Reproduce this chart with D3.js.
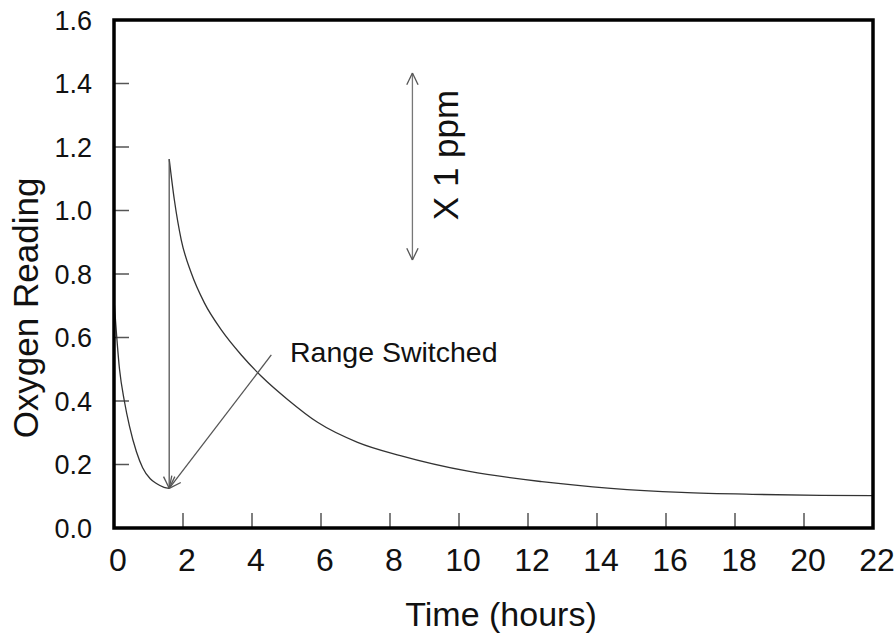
<!DOCTYPE html>
<html>
<head>
<meta charset="utf-8">
<script src="https://cdn.jsdelivr.net/npm/d3@7"></script>
<style>
  body { margin: 0; background: #fff; }
  text { font-family: "Liberation Sans", Arial, sans-serif; fill: #111; }
</style>
</head>
<body>
<svg id="chart" width="896" height="633"></svg>
<script>
// readings before the range switch (hours, ppm)
const beforeHours = [0, 0.16, 0.3, 0.45, 0.65, 0.83, 1.05, 1.23, 1.45, 1.6];
const beforeValues = [0.72, 0.5, 0.4, 0.32, 0.24, 0.19, 0.155, 0.14, 0.128, 0.125];

// readings after the range switch
const afterHours = [1.6, 1.75, 1.95, 2.24, 2.62, 3.11, 3.69, 4.27, 5.03, 5.9, 7.06, 8.3, 10.3, 12.4, 14.4, 16.45, 18.5, 20.5, 22];
const afterValues = [1.162, 1.033, 0.907, 0.803, 0.709, 0.624, 0.545, 0.478, 0.405, 0.333, 0.27, 0.228, 0.178, 0.146, 0.125, 0.112, 0.106, 0.103, 0.102];

const xTicks = d3.range(0, 23, 2);
const yTicks = [0, 0.2, 0.4, 0.6, 0.8, 1.0, 1.2, 1.4, 1.6];

// annotation arrows: [x1, y1, x2, y2] in data units, head at (x2, y2)
const switchArrows = [
  [1.6, 1.162, 1.6, 0.125],
  [4.56, 0.545, 1.6, 0.125],
];
const scaleArrow = [8.65, 0.844, 8.65, 1.433];

const width = 896;
const height = 633;
const margin = { top: 20, right: 23, bottom: 105, left: 114 };

const svg = d3.select("#chart");

const x = d3
  .scaleLinear()
  .domain([0, 22])
  .range([margin.left, width - margin.right]);

const y = d3
  .scaleLinear()
  .domain([0, 1.6])
  .range([height - margin.bottom, margin.top]);

// inner ticks
svg
  .selectAll(".xtick")
  .data(xTicks.slice(1, -1))
  .enter()
  .append("line")
  .attr("x1", (d) => x(d))
  .attr("x2", (d) => x(d))
  .attr("y1", y(0))
  .attr("y2", y(0) - 15)
  .attr("stroke", "#555")
  .attr("stroke-width", 1.5);

svg
  .selectAll(".ytick")
  .data(yTicks.slice(1, -1))
  .enter()
  .append("line")
  .attr("x1", x(0))
  .attr("x2", x(0) + 15)
  .attr("y1", (d) => y(d))
  .attr("y2", (d) => y(d))
  .attr("stroke", "#555")
  .attr("stroke-width", 1.5);

// curves
const line = d3
  .line()
  .x((d) => x(d[0]))
  .y((d) => y(d[1]))
  .curve(d3.curveMonotoneX);

[d3.zip(beforeHours, beforeValues), d3.zip(afterHours, afterValues)].forEach((pts) => {
  svg
    .append("path")
    .datum(pts)
    .attr("d", line)
    .attr("fill", "none")
    .attr("stroke", "#333")
    .attr("stroke-width", 1.3);
});

// arrows
function arrowHead(px, py, fromX, fromY) {
  const ang = Math.atan2(py - fromY, px - fromX);
  const len = 13;
  const spread = 0.45;
  [ang + Math.PI - spread, ang + Math.PI + spread].forEach((a) => {
    svg
      .append("line")
      .attr("x1", px)
      .attr("y1", py)
      .attr("x2", px + len * Math.cos(a))
      .attr("y2", py + len * Math.sin(a))
      .attr("stroke", "#555")
      .attr("stroke-width", 1.3);
  });
}

switchArrows.forEach((a) => {
  svg
    .append("line")
    .attr("x1", x(a[0]))
    .attr("y1", y(a[1]))
    .attr("x2", x(a[2]))
    .attr("y2", y(a[3]))
    .attr("stroke", "#555")
    .attr("stroke-width", 1.3);
  arrowHead(x(a[2]), y(a[3]), x(a[0]), y(a[1]));
});

svg
  .append("line")
  .attr("x1", x(scaleArrow[0]))
  .attr("y1", y(scaleArrow[1]))
  .attr("x2", x(scaleArrow[2]))
  .attr("y2", y(scaleArrow[3]))
  .attr("stroke", "#777")
  .attr("stroke-width", 1.3);
arrowHead(x(scaleArrow[2]), y(scaleArrow[3]), x(scaleArrow[0]), y(scaleArrow[1]));
arrowHead(x(scaleArrow[0]), y(scaleArrow[1]), x(scaleArrow[2]), y(scaleArrow[3]));

// frame
svg
  .append("rect")
  .attr("x", x(0))
  .attr("y", y(1.6))
  .attr("width", x(22) - x(0))
  .attr("height", y(0) - y(1.6))
  .attr("fill", "none")
  .attr("stroke", "#000")
  .attr("stroke-width", 3.5);

// tick labels
svg
  .selectAll(".xlabel")
  .data(xTicks)
  .enter()
  .append("text")
  .attr("x", (d) => x(d) + 4)
  .attr("y", y(0) + 43)
  .attr("text-anchor", "middle")
  .attr("font-size", "32px")
  .text((d) => d);

svg
  .selectAll(".ylabel")
  .data(yTicks)
  .enter()
  .append("text")
  .attr("x", 92)
  .attr("y", (d) => y(d) + 9.5)
  .attr("text-anchor", "end")
  .attr("font-size", "27px")
  .text((d) => d3.format(".1f")(d));

// axis titles
svg
  .append("text")
  .attr("x", 501)
  .attr("y", 626)
  .attr("text-anchor", "middle")
  .attr("font-size", "34px")
  .text("Time (hours)");

svg
  .append("text")
  .attr("transform", "translate(38, 308) rotate(-90)")
  .attr("text-anchor", "middle")
  .attr("font-size", "35px")
  .text("Oxygen Reading");

// notes
svg
  .append("text")
  .attr("x", 290)
  .attr("y", 362)
  .attr("font-size", "28.5px")
  .text("Range Switched");

svg
  .append("text")
  .attr("transform", "translate(458, 155) rotate(-90)")
  .attr("text-anchor", "middle")
  .attr("font-size", "35px")
  .text("X 1 ppm");
</script>
</body>
</html>
